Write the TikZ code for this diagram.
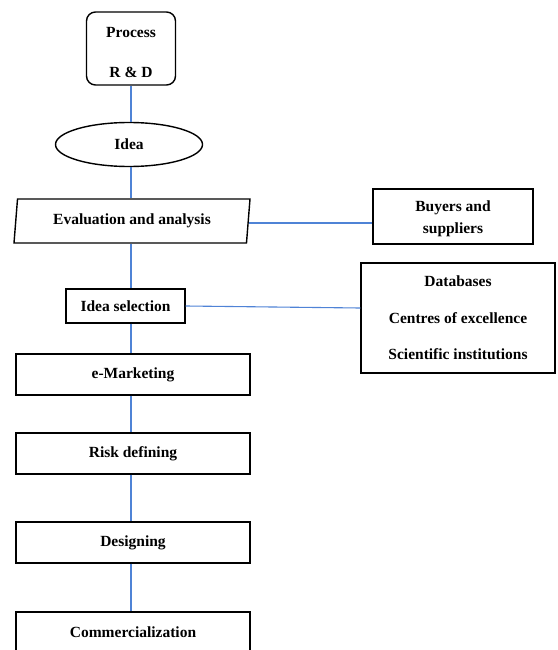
\documentclass[tikz,border=0pt]{standalone}
\usepackage{fontspec}
\setmainfont{Liberation Serif}
\usetikzlibrary{shapes.geometric}
\definecolor{conn}{HTML}{4F83D6}
\begin{document}
\begin{tikzpicture}[x=1pt,y=-1pt,
  box/.style={draw=black,line width=1.4pt,rectangle,inner sep=0pt,font=\bfseries\fontsize{15.5}{18}\selectfont,align=center},
  link/.style={draw=conn,line width=1.1pt},
  txt/.style={font=\bfseries\fontsize{15.5}{18}\selectfont}]
\clip (0,0) rectangle (557,650);
\useasboundingbox (0,0) rectangle (557,650);
\node[box,rounded corners=9pt,minimum width=89pt,minimum height=73pt] (proc) at (131,48.5) {};
\node[txt] (proct) at (131,33) {Process};
\node[txt] (procb) at (131,72) {R \& D};
\node[box,ellipse,minimum width=147pt,minimum height=44pt] (idea) at (129,144.5) {Idea};
\node[box,trapezium,trapezium left angle=76,trapezium right angle=104,trapezium stretches body=true,minimum width=236pt,minimum height=44pt] (eval) at (132,221) {Evaluation and analysis};
\node[box,minimum width=160pt,minimum height=55pt] (buy) at (453,216.5) {};
\node[txt] (buy1) at (453,208) {Buyers and};
\node[txt] (buy2) at (453,230) {suppliers};
\node[box,minimum width=194pt,minimum height=110pt] (db) at (458,318) {};
\node[txt] (db1) at (458,281) {Databases};
\node[txt] (db2) at (458,318) {Centres of excellence};
\node[txt] (db3) at (458,354) {Scientific institutions};
\node[box,minimum width=119pt,minimum height=34pt] (isel) at (125.5,306) {Idea selection};
\node[box,minimum width=234pt,minimum height=41pt] (emk) at (133,374.5) {e-Marketing};
\node[box,minimum width=234pt,minimum height=41pt] (risk) at (133,453.5) {Risk defining};
\node[box,minimum width=234pt,minimum height=41pt] (des) at (133,542.5) {Designing};
\node[box,minimum width=234pt,minimum height=41pt] (com) at (133,632.5) {Commercialization};
\draw[link] (proc.south) -- (proc.south |- idea.north);
\draw[link] (proc.south |- idea.south) -- (proc.south |- eval.north);
\draw[link] (proc.south |- eval.south) -- (proc.south |- isel.north);
\draw[link] (proc.south |- isel.south) -- (proc.south |- emk.north);
\draw[link] (proc.south |- emk.south) -- (proc.south |- risk.north);
\draw[link] (proc.south |- risk.south) -- (proc.south |- des.north);
\draw[link] (proc.south |- des.south) -- (proc.south |- com.north);
\draw[link] ([yshift=-2pt]eval.east) -- ([yshift=-2pt]eval.east -| buy.west);
\draw[link] (isel.east) -- ([yshift=10pt]db.west);
\end{tikzpicture}
\end{document}
